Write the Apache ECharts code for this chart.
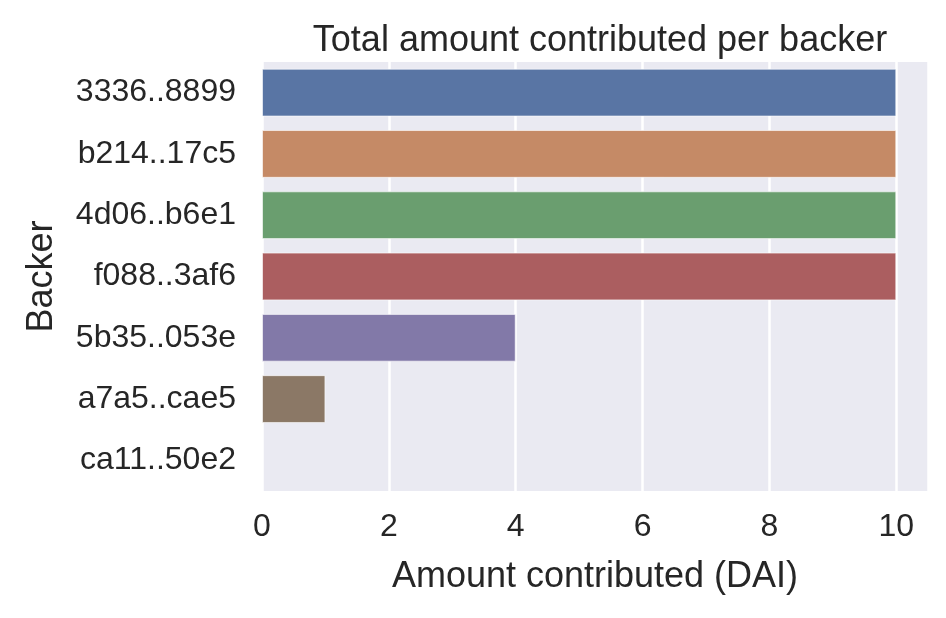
<!DOCTYPE html>
<html>
<head>
<meta charset="utf-8">
<script src="https://cdn.jsdelivr.net/npm/echarts@6/dist/echarts.min.js"></script>
<style>html,body{margin:0;padding:0;background:#fff}#c{width:946px;height:618px}</style>
</head>
<body>
<div id="c"></div>
<script>
const categories = ['3336..8899', 'b214..17c5', '4d06..b6e1', 'f088..3af6', '5b35..053e', 'a7a5..cae5', 'ca11..50e2'];
const values = [10, 10, 10, 10, 4, 1, 0];
const colors = ['#5975a4', '#c58a66', '#6a9e6f', '#ab5e60', '#8279a8', '#8b7866', '#d08cbf'];
const xTicks = [0, 2, 4, 6, 8, 10];

const chart = echarts.init(document.getElementById('c'), null, {renderer: 'canvas'});
const font = '"Liberation Sans", Arial, sans-serif';
chart.setOption({
  backgroundColor: '#ffffff',
  animation: false,
  title: {
    text: 'Total amount contributed per backer',
    left: 595, top: 18, textAlign: 'center',
    textStyle: {fontFamily: font, fontSize: 36, fontWeight: 'normal', color: '#262626'}
  },
  grid: {left: 262, right: 18, top: 62, bottom: 127, show: true, backgroundColor: '#eaeaf2', borderWidth: 0},
  xAxis: {
    type: 'value', min: 0, max: 10.5, interval: 2,
    name: 'Amount contributed (DAI)', nameLocation: 'middle', nameGap: 68,
    nameTextStyle: {fontFamily: font, fontSize: 36, color: '#262626'},
    axisLine: {show: false}, axisTick: {show: false},
    axisLabel: {fontFamily: font, fontSize: 32, color: '#262626', margin: 20,
      formatter: v => xTicks.includes(v) ? String(v) : ''},
    splitLine: {show: true, lineStyle: {color: '#ffffff', width: 2.5}}
  },
  yAxis: {
    type: 'category', data: categories, inverse: true,
    name: 'Backer', nameLocation: 'middle', nameGap: 202, nameRotate: 90,
    nameTextStyle: {fontFamily: font, fontSize: 36, color: '#262626'},
    axisLine: {show: false}, axisTick: {show: false},
    axisLabel: {fontFamily: font, fontSize: 32, color: '#262626', margin: 26},
    splitLine: {show: false}
  },
  series: [{
    type: 'bar',
    data: values.map((v, i) => ({value: v, itemStyle: {color: colors[i]}})),
    barCategoryGap: '22%',
    itemStyle: {borderColor: 'rgba(255,255,255,0.6)', borderWidth: 1}
  }]
});
</script>
</body>
</html>
